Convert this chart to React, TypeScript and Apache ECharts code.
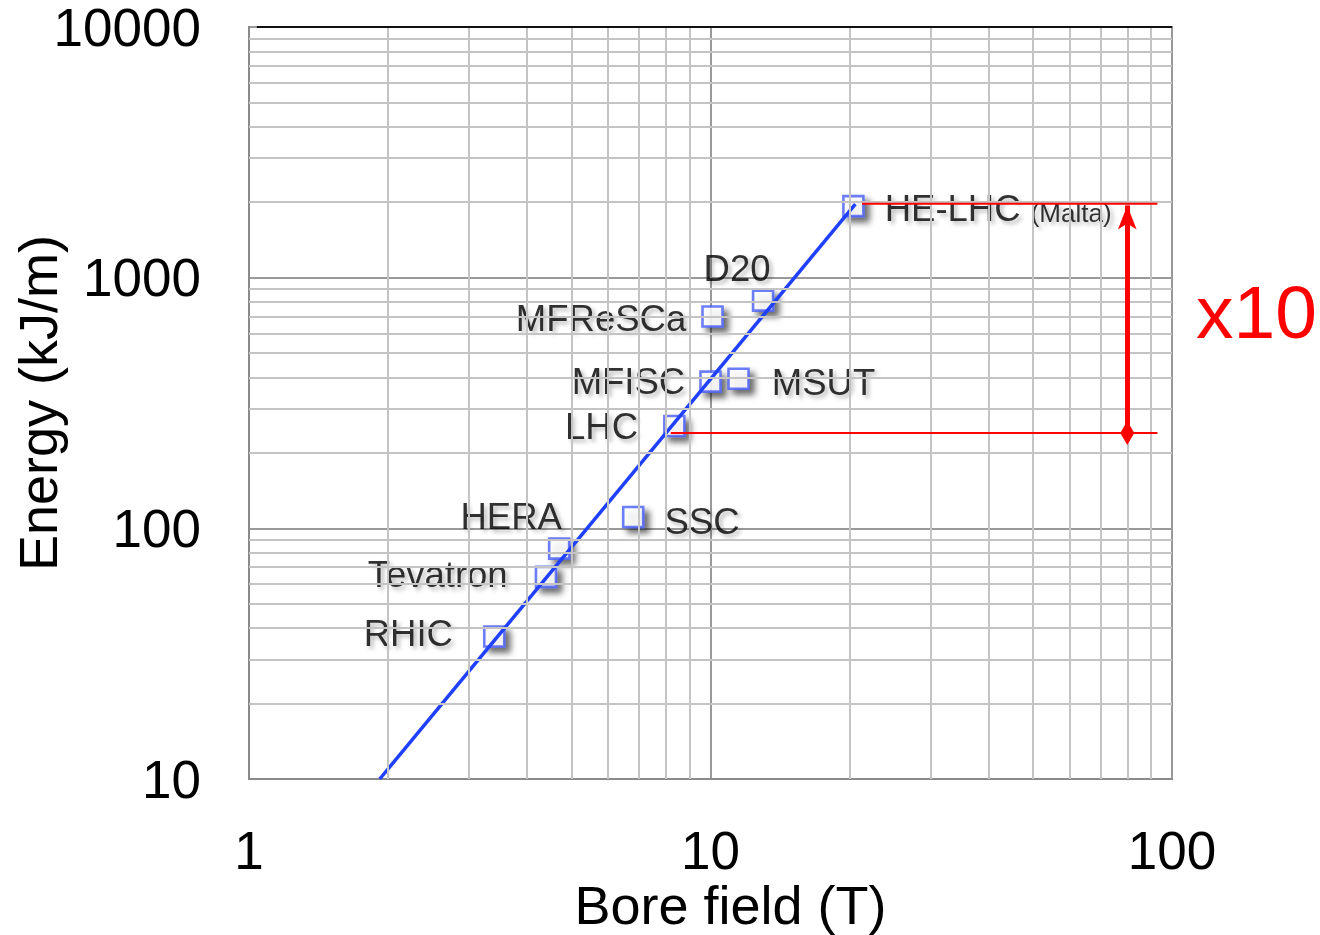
import React, { useEffect, useRef } from "react";
import * as echarts from "echarts";

// ---- data ----
const magnetNames = ["HE-LHC", "D20", "MFReSCa", "MFISC", "MSUT", "LHC", "SSC", "HERA", "Tevatron", "RHIC"];
const boreField = [20.4, 13.0, 10.1, 10.0, 11.5, 8.35, 6.8, 4.7, 4.4, 3.4];
const storedEnergy = [1930, 810, 700, 385, 395, 256, 111, 83, 64, 37];

// scaling trend line (read endpoints)
const trendLine = [
  [1.92, 10],
  [20.6, 1966],
];

// x10 annotation levels
const lhcLevel = 240;
const heLhcLevel = 1970;
const upperRefLine = [
  [21.3, heLhcLevel],
  [93, heLhcLevel],
];
const lowerRefLine = [
  [8.2, lhcLevel],
  [93, lhcLevel],
];
const arrowX = 80;
const ratioText = "x10";

const xTickLabels = ["1", "10", "100"];
const yTickLabels = ["10", "100", "1000", "10000"];

const FONT = "'Liberation Sans', Arial, Helvetica, sans-serif";

// label placement (style only)
const labelPlacement: Record<string, any> = {
  "HE-LHC": { position: "right", distance: 20, offset: [0, 2] },
  D20: { position: "top", distance: 2, offset: [-26, 0] },
  MFReSCa: { position: "left", distance: 15, offset: [0, 2] },
  MFISC: { position: "left", distance: 14, offset: [0, 0] },
  MSUT: { position: "right", distance: 22, offset: [0, 4] },
  LHC: { position: "left", distance: 25, offset: [0, 0] },
  SSC: { position: "right", distance: 20, offset: [0, 5] },
  HERA: { position: "top", distance: 2, offset: [-48, 0] },
  Tevatron: { position: "left", distance: 27, offset: [0, -2] },
  RHIC: { position: "left", distance: 30, offset: [0, -3] },
};

function minorValues(lo: number, hi: number): number[] {
  const out: number[] = [];
  for (let d = lo; d < hi; d *= 10) {
    for (let k = 2; k <= 9; k++) out.push(d * k);
  }
  return out;
}

export default function App() {
  const ref = useRef<HTMLDivElement>(null);
  useEffect(() => {
    document.body.style.margin = "0";
    const chart = echarts.init(ref.current!, null, { renderer: "svg" });

    const xMinor = minorValues(1, 100);
    const yMinor = minorValues(10, 10000);
    const minorStyle = { color: "#c4c4c4", width: 2, type: "solid" as const };

    const textShadow = {
      textShadowColor: "rgba(0,0,0,0.35)",
      textShadowBlur: 4,
      textShadowOffsetX: 3,
      textShadowOffsetY: 3,
    };

    const scatterData = magnetNames.map((n, i) => {
      const p = labelPlacement[n];
      return {
        name: n,
        value: [boreField[i], storedEnergy[i]],
        label: {
          show: true,
          formatter: n === "HE-LHC" ? "{a|HE-LHC} {b|(Malta)}" : n,
          position: p.position,
          distance: p.distance,
          offset: p.offset,
          color: "#000",
          fontSize: 36.5,
          fontFamily: FONT,
          ...textShadow,
          rich: {
            a: { fontSize: 36.5, fontFamily: FONT, color: "#000", ...textShadow },
            b: { fontSize: 26, fontFamily: FONT, color: "#000", padding: [10, 0, 0, 0], ...textShadow },
          },
        },
      };
    });

    chart.setOption({
      animation: false,
      backgroundColor: "#ffffff",
      grid: {
        left: 249,
        right: 148,
        top: 27,
        bottom: 156,
        outerBoundsMode: "none",
        containLabel: false,
        show: true,
        borderColor: "#8a8a8a",
        borderWidth: 2,
        backgroundColor: "transparent",
      },
      xAxis: {
        type: "log",
        logBase: 10,
        min: 1,
        max: 100,
        name: "Bore field (T)",
        nameLocation: "middle",
        nameGap: 99,
        nameMoveOverlap: false,
        nameTextStyle: { fontSize: 54, fontFamily: FONT, color: "#000", padding: [0, 0, 0, 40] },
        axisLine: { show: true, lineStyle: { color: "#8a8a8a", width: 2 } },
        axisTick: { show: false },
        axisLabel: {
          fontSize: 53,
          lineHeight: 54,
          fontFamily: FONT,
          color: "#000",
          margin: 44,
          formatter: (v: number) => {
            const s = String(Math.round(v));
            return xTickLabels.includes(s) ? s : "";
          },
        },
        splitLine: { show: true, lineStyle: { color: "#999", width: 2 } },
      },
      yAxis: {
        type: "log",
        logBase: 10,
        min: 10,
        max: 10000,
        name: "Energy (kJ/m)",
        nameLocation: "middle",
        nameGap: 184,
        nameMoveOverlap: false,
        nameRotate: 90,
        nameTextStyle: { fontSize: 54, fontFamily: FONT, color: "#000" },
        axisLine: { show: true, lineStyle: { color: "#8a8a8a", width: 2 } },
        axisTick: { show: false },
        axisLabel: {
          fontSize: 53,
          lineHeight: 46,
          fontFamily: FONT,
          color: "#000",
          margin: 48,
          formatter: (v: number) => {
            const s = String(Math.round(v));
            return yTickLabels.includes(s) ? s : "";
          },
        },
        splitLine: { show: true, lineStyle: { color: "#999", width: 2 } },
      },
      series: [
        {
          name: "minor-grid",
          type: "line",
          data: [],
          z: 1,
          silent: true,
          markLine: {
            silent: true,
            symbol: "none",
            label: { show: false },
            lineStyle: minorStyle,
            data: [
              ...xMinor.map((v) => ({ xAxis: v })),
              ...yMinor.map((v) => ({ yAxis: v })),
            ],
          },
        },
        {
          name: "top-border",
          type: "line",
          data: [],
          z: 2,
          silent: true,
          markLine: {
            silent: true,
            symbol: "none",
            label: { show: false },
            lineStyle: { color: "#111", width: 2, type: "solid" },
            data: [[{ coord: [1.04, 10000] }, { coord: [100, 10000] }]],
          },
        },
        {
          name: "magnets",
          type: "scatter",
          symbol: "rect",
          symbolSize: 20,
          z: 3,
          itemStyle: {
            color: "#ffffff",
            borderColor: "#4a5ef5",
            borderWidth: 2.6,
            shadowColor: "rgba(0,0,0,0.7)",
            shadowBlur: 6,
            shadowOffsetX: 5,
            shadowOffsetY: 5,
          },
          data: scatterData,
        },
        {
          name: "trend",
          type: "line",
          data: trendLine,
          symbol: "none",
          z: 4,
          lineStyle: { color: "#1f40ff", width: 3.5 },
        },
        {
          name: "upper-ref",
          type: "line",
          data: upperRefLine,
          symbol: "none",
          z: 5,
          lineStyle: { color: "#ff0000", width: 2 },
        },
        {
          name: "lower-ref",
          type: "line",
          data: lowerRefLine,
          symbol: "none",
          z: 5,
          lineStyle: { color: "#ff0000", width: 2 },
          markLine: {
            silent: true,
            symbol: ["diamond", "arrow"],
            symbolSize: [14, 24],
            label: { show: false },
            lineStyle: { color: "#ff0000", width: 5, type: "solid" },
            itemStyle: { color: "#ff0000" },
            data: [[{ coord: [arrowX, lhcLevel] }, { coord: [arrowX, heLhcLevel * 0.985] }]],
          },
        },
      ],
      graphic: [
        {
          type: "text",
          left: 1196,
          top: 274,
          style: {
            text: ratioText,
            fontSize: 75,
            fontFamily: FONT,
            fill: "#ff0000",
          },
        },
      ],
    });

    return () => chart.dispose();
  }, []);

  return <div ref={ref} style={{ width: 1320, height: 935 }} />;
}
